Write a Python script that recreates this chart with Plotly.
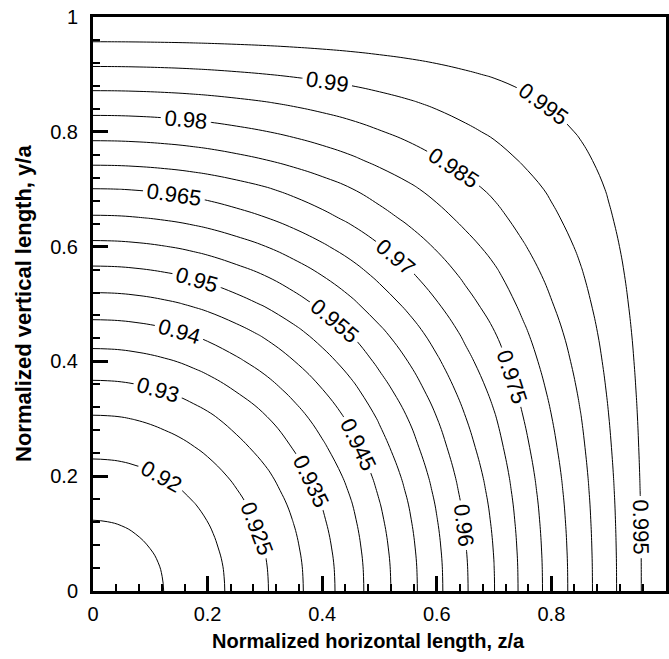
import numpy as np
import plotly.graph_objects as go

# Sample positions along each axis (normalized length) and the field value
# read from the picture along the z/a axis (y/a = 0); the field is symmetric.
positions = [0.000, 0.025, 0.050, 0.075, 0.100, 0.125, 0.150, 0.175, 0.200,
             0.250, 0.300, 0.350, 0.400, 0.450, 0.500, 0.550, 0.600, 0.650,
             0.700, 0.750, 0.800, 0.850, 0.900, 0.950, 1.000]
axis_profile = [0.91300, 0.91308, 0.91330, 0.91374, 0.91430, 0.91505, 0.91590,
                0.91700, 0.91820, 0.92120, 0.92450, 0.92850, 0.93290, 0.93760,
                0.94290, 0.94820, 0.95380, 0.95950, 0.96490, 0.97100, 0.97680,
                0.98240, 0.98840, 0.99420, 1.00000]

level_start = 0.915
level_end = 0.995
level_step = 0.005

tick_vals = [0, 0.2, 0.4, 0.6, 0.8, 1]
tick_text = ["0", "0.2", "0.4", "0.6", "0.8", "1"]

x_title = "Normalized horizontal length, z/a"
y_title = "Normalized vertical length, y/a"

# Build the 2-D field (separable deficit) from the axis profile
g = np.array(axis_profile)
d = 1.0 - g
Z = 1.0 - np.outer(d, d) / d[0]

FONT = "Liberation Sans, Arial, sans-serif"

fig = go.Figure(go.Contour(
    x=positions, y=positions, z=Z,
    contours=dict(start=level_start, end=level_end, size=level_step,
                  coloring="none", showlabels=True,
                  labelfont=dict(size=22, color="black", family=FONT),
                  labelformat=".3~f"),
    line=dict(color="black", width=1, smoothing=1.3),
    showscale=False, hoverinfo="skip",
))

axis_common = dict(
    range=[0, 1], tickvals=tick_vals, ticktext=tick_text,
    ticks="inside", ticklen=15, tickwidth=3, tickcolor="black",
    showline=True, linewidth=3, linecolor="black", mirror=True,
    showgrid=False, zeroline=False, automargin=False,
    tickfont=dict(size=20, color="black", family=FONT),
    minor=dict(ticks="inside", ticklen=7, tickwidth=1.5, tickcolor="black",
               dtick=0.04, tick0=0, showgrid=False),
)

fig.update_layout(
    width=669, height=659,
    margin=dict(l=93, r=3, t=17, b=68),
    paper_bgcolor="white", plot_bgcolor="white",
    showlegend=False,
    xaxis=dict(**axis_common, ticklabelstandoff=3),
    yaxis=dict(**axis_common, ticklabelstandoff=8),
    annotations=[
        dict(text="<b>" + x_title + "</b>", xref="paper", yref="paper",
             x=0.481, y=0, xanchor="center", yanchor="middle", yshift=-50,
             showarrow=False, font=dict(size=20, color="black", family=FONT)),
        dict(text="<b>" + y_title + "</b>", xref="paper", yref="paper",
             x=0, y=0.5, xanchor="center", yanchor="middle", xshift=-70,
             textangle=-90, showarrow=False,
             font=dict(size=22, color="black", family=FONT)),
    ],
)

fig.write_html("out.html",
               config={"displayModeBar": False},
               post_script="document.body.style.margin='0';"
                           "document.body.style.overflow='hidden';")
